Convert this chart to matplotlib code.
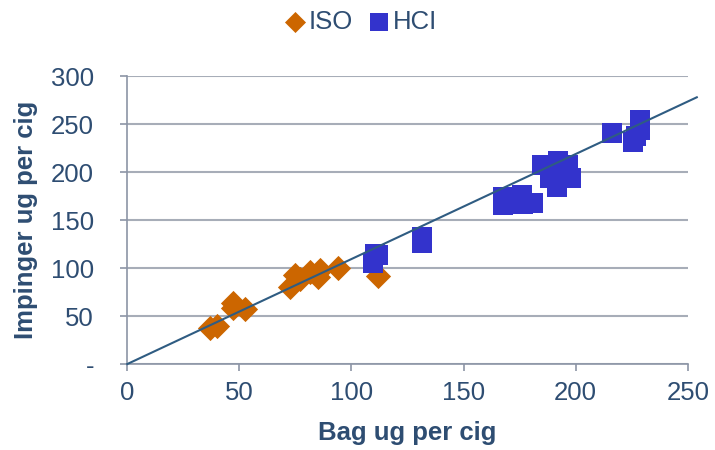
import matplotlib.pyplot as plt
from matplotlib.ticker import FuncFormatter

plt.rcParams['font.family'] = ['Liberation Sans', 'DejaVu Sans']

# ISO smoking regime
iso_bag = [37, 40, 47, 47, 52.5, 72.5, 75, 77, 81.5, 85, 86, 94, 112]
iso_imp = [38, 40, 64, 58, 57, 80, 93, 89, 96, 91, 98, 100, 92]

# HCI smoking regime
hci_bag = [110.5, 109.5, 112, 131.5, 131.5, 167.5, 167.5, 176, 176.5, 181,
           185, 192, 196.5, 188.5, 191.5, 198, 194,
           216, 228.5, 228.5, 225.5, 227]
hci_imp = [115, 105, 114, 132, 126, 174, 166, 176, 167, 168,
           207, 212, 207, 194, 184, 194, 199,
           241, 254, 244, 231, 238]

# trend line through the origin
trend_slope = 1.094
trend_x = [0, 254]
trend_y = [trend_slope * v for v in trend_x]

text_col = '#2E4D72'
grid_col = '#A7ADB8'

fig = plt.figure(figsize=(7.15, 4.5), dpi=100)
ax = fig.add_axes([0.178, 0.191, 0.784, 0.640])

ax.scatter(iso_bag, iso_imp, marker='D', s=165, color='#CC6600', label='ISO',
           linewidths=0, zorder=3)
ax.scatter(hci_bag, hci_imp, marker='s', s=210, color='#3333CC', label='HCI',
           linewidths=0, zorder=3)
ax.plot(trend_x, trend_y, color='#2F5C82', lw=1.5, clip_on=False, zorder=4)

ax.set_xlim(0, 250)
ax.set_ylim(0, 300)
ax.set_xticks(range(0, 251, 50))
ax.set_yticks(range(0, 301, 50))
ax.yaxis.set_major_formatter(FuncFormatter(lambda v, p: '-' if v == 0 else f'{v:.0f}'))
ax.grid(axis='y', color=grid_col, lw=1.5)
ax.set_axisbelow(True)

for side in ['top', 'right']:
    ax.spines[side].set_visible(False)
for side in ['left', 'bottom']:
    ax.spines[side].set_color('#8C95A6')
    ax.spines[side].set_linewidth(1.2)
ax.tick_params(colors='#8C95A6', labelcolor=text_col, labelsize=18.5, length=5, width=1.2)
ax.tick_params(axis='x', pad=7)
ax.tick_params(axis='y', pad=19)

ax.set_xlabel('Bag ug per cig', fontsize=18.5, fontweight='bold', color=text_col, va='center')
ax.set_ylabel('Impinger ug per cig', fontsize=18.5, fontweight='bold', color=text_col, va='center')
ax.xaxis.set_label_coords(0.5, -0.24)
ax.yaxis.set_label_coords(-0.18, 0.5)

leg = fig.legend(loc='center', bbox_to_anchor=(0.505, 0.951), ncol=2, frameon=False,
                 fontsize=18.5, handletextpad=0.15, columnspacing=0.6, handlelength=0.8)
leg.legend_handles[0].set_sizes([115])
leg.legend_handles[1].set_sizes([150])
for t in leg.get_texts():
    t.set_color(text_col)

fig.savefig('out.png', dpi=100)
